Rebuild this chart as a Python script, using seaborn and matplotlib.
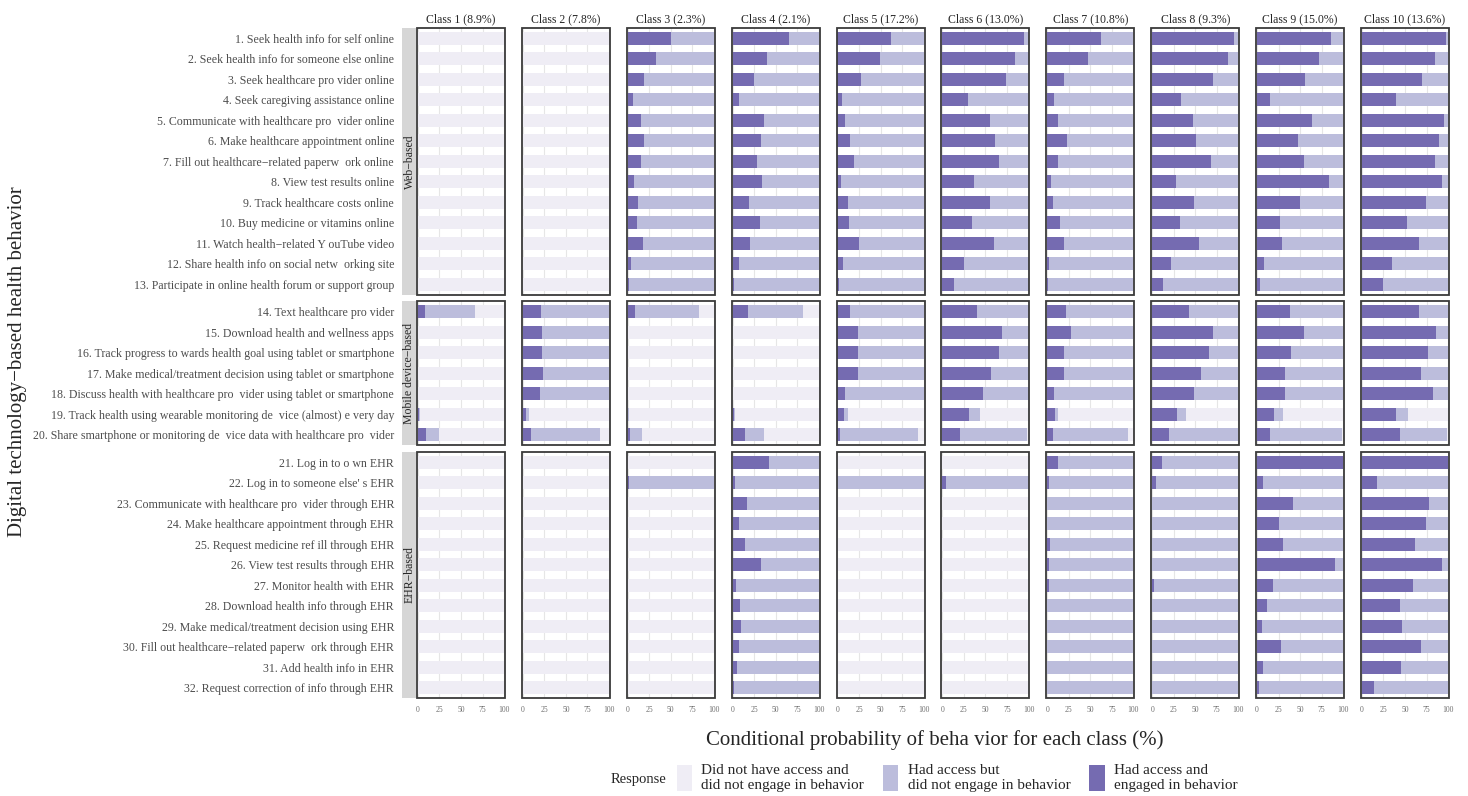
import pandas as pd
import matplotlib
matplotlib.use('Agg')
import matplotlib.pyplot as plt
from matplotlib.patches import Patch, Rectangle
import seaborn as sns

sns.set_style('white')
plt.rcParams['font.family'] = ['Liberation Serif', 'DejaVu Serif']

# ---- data ----
behaviors = [
    '1. Seek health info for self online',
    '2. Seek health info for someone else online',
    '3. Seek healthcare pro vider online',
    '4. Seek caregiving assistance online',
    '5. Communicate with healthcare pro  vider online',
    '6. Make healthcare appointment online',
    '7. Fill out healthcare−related paperw  ork online',
    '8. View test results online',
    '9. Track healthcare costs online',
    '10. Buy medicine or vitamins online',
    '11. Watch health−related Y ouTube video',
    '12. Share health info on social netw  orking site',
    '13. Participate in online health forum or support group',
    '14. Text healthcare pro vider',
    '15. Download health and wellness apps',
    '16. Track progress to wards health goal using tablet or smartphone',
    '17. Make medical/treatment decision using tablet or smartphone',
    '18. Discuss health with healthcare pro  vider using tablet or smartphone',
    '19. Track health using wearable monitoring de  vice (almost) e very day',
    '20. Share smartphone or monitoring de  vice data with healthcare pro  vider',
    '21. Log in to o wn EHR',
    "22. Log in to someone else' s EHR",
    '23. Communicate with healthcare pro  vider through EHR',
    '24. Make healthcare appointment through EHR',
    '25. Request medicine ref ill through EHR',
    '26. View test results through EHR',
    '27. Monitor health with EHR',
    '28. Download health info through EHR',
    '29. Make medical/treatment decision using EHR',
    '30. Fill out healthcare−related paperw  ork through EHR',
    '31. Add health info in EHR',
    '32. Request correction of info through EHR',
]
domain_names = ['Web−based', 'Mobile device−based', 'EHR−based']
domain_sizes = [13, 7, 12]

class_labels = ['Class 1 (8.9%)', 'Class 2 (7.8%)', 'Class 3 (2.3%)', 'Class 4 (2.1%)',
                'Class 5 (17.2%)', 'Class 6 (13.0%)', 'Class 7 (10.8%)', 'Class 8 (9.3%)',
                'Class 9 (15.0%)', 'Class 10 (13.6%)']

# % who had access and engaged in behavior
engaged_c1 = [0, 0, 0, 0, 0, 0, 0, 0, 0, 0, 0, 0, 0,
              8, 0, 0, 0, 0, 1, 9,
              0, 0, 0, 0, 0, 0, 0, 0, 0, 0, 0, 0]
engaged_c2 = [0, 0, 0, 0, 0, 0, 0, 0, 0, 0, 0, 0, 0,
              21, 22, 22, 23, 20, 4, 10,
              0, 0, 0, 0, 0, 0, 0, 0, 0, 0, 0, 0]
engaged_c3 = [50, 33, 19, 6, 15, 19, 16, 7, 12, 11, 18, 4, 1,
              9, 0, 0, 0, 0, 0, 3,
              0, 1, 0, 0, 0, 0, 0, 0, 0, 0, 0, 0]
engaged_c4 = [65, 40, 25, 7, 36, 33, 28, 34, 19, 32, 20, 7, 2,
              18, 0, 0, 0, 0, 2, 15,
              42, 3, 17, 7, 15, 33, 4, 9, 10, 7, 5, 2]
engaged_c5 = [62, 49, 27, 5, 9, 15, 19, 4, 12, 13, 25, 7, 2,
              15, 24, 24, 24, 9, 8, 3,
              0, 0, 0, 0, 0, 0, 0, 0, 0, 0, 0, 0]
engaged_c6 = [95, 84, 74, 30, 55, 61, 66, 37, 55, 34, 60, 25, 13,
              40, 69, 66, 57, 47, 31, 21,
              0, 4, 0, 0, 0, 0, 0, 0, 0, 0, 0, 0]
engaged_c7 = [62, 47, 19, 8, 12, 23, 13, 4, 7, 15, 19, 2, 1,
              22, 28, 20, 19, 8, 9, 7,
              12, 2, 0, 0, 3, 2, 2, 0, 0, 0, 0, 0]
engaged_c8 = [95, 88, 71, 34, 47, 51, 68, 28, 48, 32, 54, 22, 13,
              43, 71, 66, 57, 49, 29, 19,
              11, 4, 0, 0, 0, 0, 2, 0, 0, 0, 0, 0]
engaged_c9 = [86, 72, 56, 15, 64, 48, 55, 84, 50, 27, 29, 8, 3,
              38, 55, 39, 33, 32, 20, 15,
              100, 7, 42, 25, 30, 91, 19, 12, 6, 28, 7, 2]
engaged_c10 = [98, 85, 70, 39, 95, 89, 85, 93, 74, 52, 66, 35, 25,
               66, 86, 77, 69, 83, 40, 44,
               100, 17, 78, 74, 62, 93, 59, 44, 47, 69, 45, 14]

# % who had access (engaged + did not engage)
access_c1 = [0, 0, 0, 0, 0, 0, 0, 0, 0, 0, 0, 0, 0,
             66, 0, 0, 0, 0, 3, 24,
             0, 0, 0, 0, 0, 0, 0, 0, 0, 0, 0, 0]
access_c2 = [0, 0, 0, 0, 0, 0, 0, 0, 0, 0, 0, 0, 0,
             100, 100, 100, 100, 100, 7, 90,
             0, 0, 0, 0, 0, 0, 0, 0, 0, 0, 0, 0]
access_c3 = [100, 100, 100, 100, 100, 100, 100, 100, 100, 100, 100, 100, 100,
             83, 0, 0, 0, 0, 2, 17,
             0, 100, 0, 0, 0, 0, 0, 0, 0, 0, 0, 0]
access_c4 = [100, 100, 100, 100, 100, 100, 100, 100, 100, 100, 100, 100, 100,
             82, 0, 0, 0, 0, 3, 37,
             100, 100, 100, 100, 100, 100, 100, 100, 100, 100, 100, 100]
access_c5 = [100, 100, 100, 100, 100, 100, 100, 100, 100, 100, 100, 100, 100,
             100, 100, 100, 100, 100, 12, 94,
             0, 100, 0, 0, 0, 0, 0, 0, 0, 0, 0, 0]
access_c6 = [100, 100, 100, 100, 100, 100, 100, 100, 100, 100, 100, 100, 100,
             100, 100, 100, 100, 100, 44, 98,
             0, 100, 0, 0, 0, 0, 0, 0, 0, 0, 0, 0]
access_c7 = [100, 100, 100, 100, 100, 100, 100, 100, 100, 100, 100, 100, 100,
             100, 100, 100, 100, 100, 12, 94,
             100, 100, 100, 100, 100, 100, 100, 100, 100, 100, 100, 100]
access_c8 = [100, 100, 100, 100, 100, 100, 100, 100, 100, 100, 100, 100, 100,
             100, 100, 100, 100, 100, 39, 100,
             100, 100, 100, 100, 100, 100, 100, 100, 100, 100, 100, 100]
access_c9 = [100, 100, 100, 100, 100, 100, 100, 100, 100, 100, 100, 100, 100,
             100, 100, 100, 100, 100, 30, 98,
             100, 100, 100, 100, 100, 100, 100, 100, 100, 100, 100, 100]
access_c10 = [100, 100, 100, 100, 100, 100, 100, 100, 100, 100, 100, 100, 100,
              100, 100, 100, 100, 100, 53, 99,
              100, 100, 100, 100, 100, 100, 100, 100, 100, 100, 100, 100]

engaged_all = [engaged_c1, engaged_c2, engaged_c3, engaged_c4, engaged_c5,
               engaged_c6, engaged_c7, engaged_c8, engaged_c9, engaged_c10]
access_all = [access_c1, access_c2, access_c3, access_c4, access_c5,
              access_c6, access_c7, access_c8, access_c9, access_c10]

response_labels = ['Did not have access and\ndid not engage in behavior',
                   'Had access but\ndid not engage in behavior',
                   'Had access and\nengaged in behavior']
colors = ['#EFEDF5', '#BCBDDC', '#756BB1']

# long table
domain_of = []
for name, n in zip(domain_names, domain_sizes):
    domain_of += [name] * n

rows = []
for cls, eng, acc in zip(class_labels, engaged_all, access_all):
    for i, b in enumerate(behaviors):
        rows.append({'behavior': b, 'domain': domain_of[i], 'cls': cls,
                     'total': 100, 'access': acc[i], 'engaged': eng[i]})
df = pd.DataFrame(rows)

# ---- figure ----
W, H = 1468, 796
fig = plt.figure(figsize=(W / 100, H / 100), dpi=100)
gs = fig.add_gridspec(3, 10, left=417 / W, right=1449 / W, top=1 - 28 / H, bottom=1 - 698 / H,
                      wspace=0.193, hspace=0.032, height_ratios=domain_sizes)

for r, dom in enumerate(domain_names):
    items = [b for b, d in zip(behaviors, domain_of) if d == dom]
    for c, cls in enumerate(class_labels):
        ax = fig.add_subplot(gs[r, c])
        sub = df[(df['domain'] == dom) & (df['cls'] == cls)]
        # stacked: full 100 first, then access, then engaged on top
        for col, color in zip(['total', 'access', 'engaged'], colors):
            sns.barplot(data=sub, x=col, y='behavior', order=items, orient='h',
                        color=color, width=0.62, saturation=1, errorbar=None,
                        linewidth=0, ax=ax)
        ax.set_xlim(-1, 101)
        ax.set_ylim(len(items) - 0.5, -0.5)
        ax.set_xticks([0, 25, 50, 75, 100])
        ax.grid(axis='x', color='#E6E6E6', lw=0.8)
        ax.grid(axis='y', visible=False)
        ax.set_axisbelow(True)
        ax.set_xlabel('')
        ax.set_ylabel('')
        for s in ax.spines.values():
            s.set_visible(False)
        ax.add_patch(Rectangle((0, 0), 1, 1, transform=ax.transAxes, fill=False,
                               ec='#3A3A3A', lw=1.3, clip_on=False, zorder=5))
        if c == 0:
            ax.spines['left'].set_position(('outward', 12))
            ax.tick_params(axis='y', length=2.5, width=0.6, pad=2, labelsize=8.6,
                           color='#8A8A8A', labelcolor='#4D4D4D')
            pos = ax.get_position()
            fig.add_artist(Rectangle((402 / W, pos.y0), 14 / W, pos.height,
                                     transform=fig.transFigure, fc='#D6D6D6', ec='none'))
            fig.text(409.5 / W, pos.y0 + pos.height / 2, dom, rotation=90,
                     ha='center', va='center', fontsize=8.5, color='#262626')
        else:
            ax.set_yticklabels([])
            ax.tick_params(axis='y', length=0)
        if r == 2:
            ax.tick_params(axis='x', length=2, width=0.6, pad=4, labelsize=5.5,
                           color='#8A8A8A', labelcolor='#6E6E6E')
        else:
            ax.tick_params(axis='x', length=0, labelbottom=False)
        if r == 0:
            ax.set_title(cls, fontsize=8.5, pad=4, color='#262626')

fig.text(0.637, 1 - 740 / H, 'Conditional probability of beha vior for each class (%)',
         ha='center', va='center', fontsize=15)
fig.text(18 / W, 1 - 362 / H, 'Digital technology−based health behavior', rotation=90,
         ha='center', va='center', fontsize=15)

handles = [Patch(fc=col, ec='none', label=lab) for col, lab in zip(colors, response_labels)]
fig.legend(handles=handles, loc='center', bbox_to_anchor=(0.652, 1 - 778 / H), ncol=3,
           frameon=False, fontsize=11, handlelength=1.0, handleheight=2.2,
           handletextpad=0.6, columnspacing=1.25)
fig.text(638 / W, 1 - 780 / H, 'Response', ha='center', va='center', fontsize=10.5)

fig.savefig('out.png', dpi=100)
